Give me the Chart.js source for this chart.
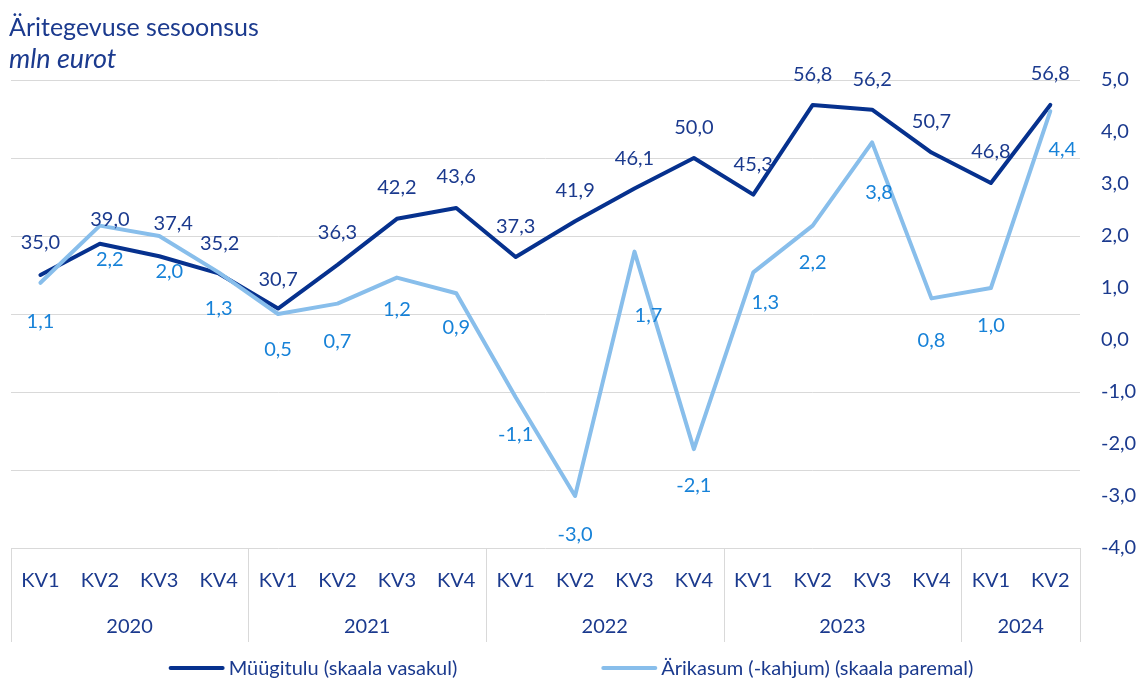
<!DOCTYPE html>
<html>
<head>
<meta charset="utf-8">
<script src="https://cdn.jsdelivr.net/npm/chart.js@4.4.1/dist/chart.umd.min.js"></script>
<style>
html,body{margin:0;padding:0;background:#ffffff;}
#wrap{width:1137px;height:682px;position:relative;}
</style>
</head>
<body>
<div id="wrap"><canvas id="chart" width="1137" height="682"></canvas></div>
<script>
// ---- data ----
const quarterLabels = ['KV1','KV2','KV3','KV4','KV1','KV2','KV3','KV4','KV1','KV2','KV3','KV4','KV1','KV2','KV3','KV4','KV1','KV2'];
const yearLabels = ['2020','2021','2022','2023','2024'];
const quartersInYear = [4,4,4,4,2];
const salesRevenue = [35.0,39.0,37.4,35.2,30.7,36.3,42.2,43.6,37.3,41.9,46.1,50.0,45.3,56.8,56.2,50.7,46.8,56.8];
const operatingProfit = [1.1,2.2,2.0,1.3,0.5,0.7,1.2,0.9,-1.1,-3.0,1.7,-2.1,1.3,2.2,3.8,0.8,1.0,4.4];
const seriesNames = ['Müügitulu (skaala vasakul)','Ärikasum (-kahjum) (skaala paremal)'];
const titleText = 'Äritegevuse sesoonsus';
const subtitleText = 'mln eurot';

// ---- styling ----
const FONT = 'Lato, "Open Sans", sans-serif';
const DARK = '#06318E';
const LIGHT = '#88BEEB';
const DARK_TEXT = '#1B3A8E';
const LIGHT_TEXT = '#1782D8';
const GRID = '#D9D9D9';
const salesLabelOffsets = [[0,-32],[10,-24],[14,-33],[1,-30],[0,-29],[0,-32],[0,-31],[0,-31],[0,-31],[0,-31],[0,-30],[0,-30],[0,-30],[0,-30],[0,-30],[0,-31],[0,-31],[0,-31]];
const profitLabelOffsets = [[0,39],[10,34],[10,36],[0,36],[0,36],[0,38],[0,32],[0,34],[0,37],[0,39],[14,64],[0,36],[12,30],[0,37],[7,50],[0,42],[0,38],[12,38]];

const fmt = v => v.toFixed(1).replace('.', ',');

const dataLabelPlugin = {
  id: 'dataLabels',
  afterDatasetsDraw(chart) {
    const ctx = chart.ctx;
    ctx.save();
    ctx.font = '20px ' + FONT;
    ctx.textAlign = 'center';
    ctx.textBaseline = 'middle';
    chart.data.datasets.forEach((ds, di) => {
      const meta = chart.getDatasetMeta(di);
      meta.data.forEach((pt, i) => {
        const off = ds.labelOffsets[i];
        ctx.fillStyle = ds.labelColor;
        ctx.fillText(fmt(ds.data[i]), pt.x + off[0], pt.y + off[1]);
      });
    });
    ctx.restore();
  }
};

const categoryTablePlugin = {
  id: 'categoryTable',
  afterDraw(chart) {
    const ctx = chart.ctx;
    const xs = chart.scales.x;
    const top = chart.chartArea.bottom;
    const bottom = top + 94;
    ctx.save();
    ctx.strokeStyle = GRID;
    ctx.lineWidth = 1;
    ctx.font = '20px ' + FONT;
    ctx.fillStyle = DARK_TEXT;
    ctx.textAlign = 'center';
    ctx.textBaseline = 'middle';
    let start = 0;
    const bounds = [];
    quartersInYear.forEach((n, yi) => {
      const x0 = xs.getPixelForValue(start - 0.5);
      const x1 = xs.getPixelForValue(start + n - 0.5);
      if (yi === 0) bounds.push(x0);
      bounds.push(x1);
      ctx.fillText(yearLabels[yi], (x0 + x1) / 2, top + 79);
      start += n;
    });
    bounds.forEach(b => {
      const xx = Math.round(b) + 0.5;
      ctx.beginPath();
      ctx.moveTo(xx, top);
      ctx.lineTo(xx, bottom);
      ctx.stroke();
    });
    ctx.restore();
  }
};

const legendPlugin = {
  id: 'customLegend',
  afterDraw(chart) {
    const ctx = chart.ctx;
    ctx.save();
    ctx.font = '20px ' + FONT;
    ctx.textBaseline = 'middle';
    ctx.textAlign = 'left';
    const y = 668;
    const sample = 56, gapText = 4, gapItems = 144;
    const items = [chart.data.datasets[1], chart.data.datasets[0]];
    const widths = items.map(d => ctx.measureText(d.label).width);
    const total = widths.reduce((a, w) => a + sample + gapText + w, 0) + gapItems;
    let x = 571 - total / 2;
    items.forEach((d, i) => {
      ctx.strokeStyle = d.borderColor;
      ctx.lineWidth = 4;
      ctx.lineCap = 'round';
      ctx.beginPath();
      ctx.moveTo(x + 2, y);
      ctx.lineTo(x + sample - 2, y);
      ctx.stroke();
      ctx.fillStyle = DARK_TEXT;
      ctx.fillText(d.label, x + sample + gapText, y + 1);
      x += sample + gapText + widths[i] + gapItems;
    });
    ctx.restore();
  }
};

new Chart(document.getElementById('chart'), {
  type: 'line',
  data: {
    labels: quarterLabels,
    datasets: [
      {
        label: seriesNames[1],
        data: operatingProfit,
        yAxisID: 'yRight',
        borderColor: LIGHT,
        borderWidth: 4,
        pointRadius: 0,
        tension: 0,
        borderJoinStyle: 'round',
        borderCapStyle: 'round',
        order: 0,
        labelColor: LIGHT_TEXT,
        labelOffsets: profitLabelOffsets
      },
      {
        label: seriesNames[0],
        data: salesRevenue,
        yAxisID: 'yLeft',
        borderColor: DARK,
        borderWidth: 4,
        pointRadius: 0,
        tension: 0,
        borderJoinStyle: 'round',
        borderCapStyle: 'round',
        order: 1,
        labelColor: DARK_TEXT,
        labelOffsets: salesLabelOffsets
      }
    ]
  },
  options: {
    responsive: false,
    animation: false,
    devicePixelRatio: 1,
    layout: { padding: { left: 9, right: 0, top: 0, bottom: 0 } },
    plugins: {
      legend: { display: false },
      tooltip: { enabled: false },
      title: {
        display: true,
        text: titleText,
        align: 'start',
        color: DARK_TEXT,
        font: { family: FONT, size: 25, weight: 'normal' },
        padding: { top: 13, bottom: 0 }
      },
      subtitle: {
        display: true,
        text: subtitleText,
        align: 'start',
        color: DARK_TEXT,
        font: { family: FONT, size: 27, style: 'italic', weight: 'normal' },
        padding: { top: 0, bottom: 4.6 }
      }
    },
    scales: {
      x: {
        type: 'category',
        offset: true,
        grid: { display: false, drawTicks: false },
        border: { display: false },
        ticks: { color: DARK_TEXT, font: { family: FONT, size: 20 }, padding: 21, maxRotation: 0, autoSkip: false },
        afterFit: s => { s.height = 134; }
      },
      yLeft: {
        position: 'left',
        min: 0,
        max: 60,
        ticks: { display: false, stepSize: 10 },
        grid: { color: GRID, lineWidth: 1, drawTicks: false },
        border: { display: false },
        afterFit: s => { s.width = 0; }
      },
      yRight: {
        position: 'right',
        min: -4,
        max: 5,
        ticks: { stepSize: 1, color: DARK_TEXT, font: { family: FONT, size: 20 }, padding: 21, callback: v => fmt(v) },
        grid: { display: false, drawTicks: false },
        border: { display: false },
        afterFit: s => { s.width = 57; }
      }
    }
  },
  plugins: [dataLabelPlugin, categoryTablePlugin, legendPlugin]
});
</script>
</body>
</html>
